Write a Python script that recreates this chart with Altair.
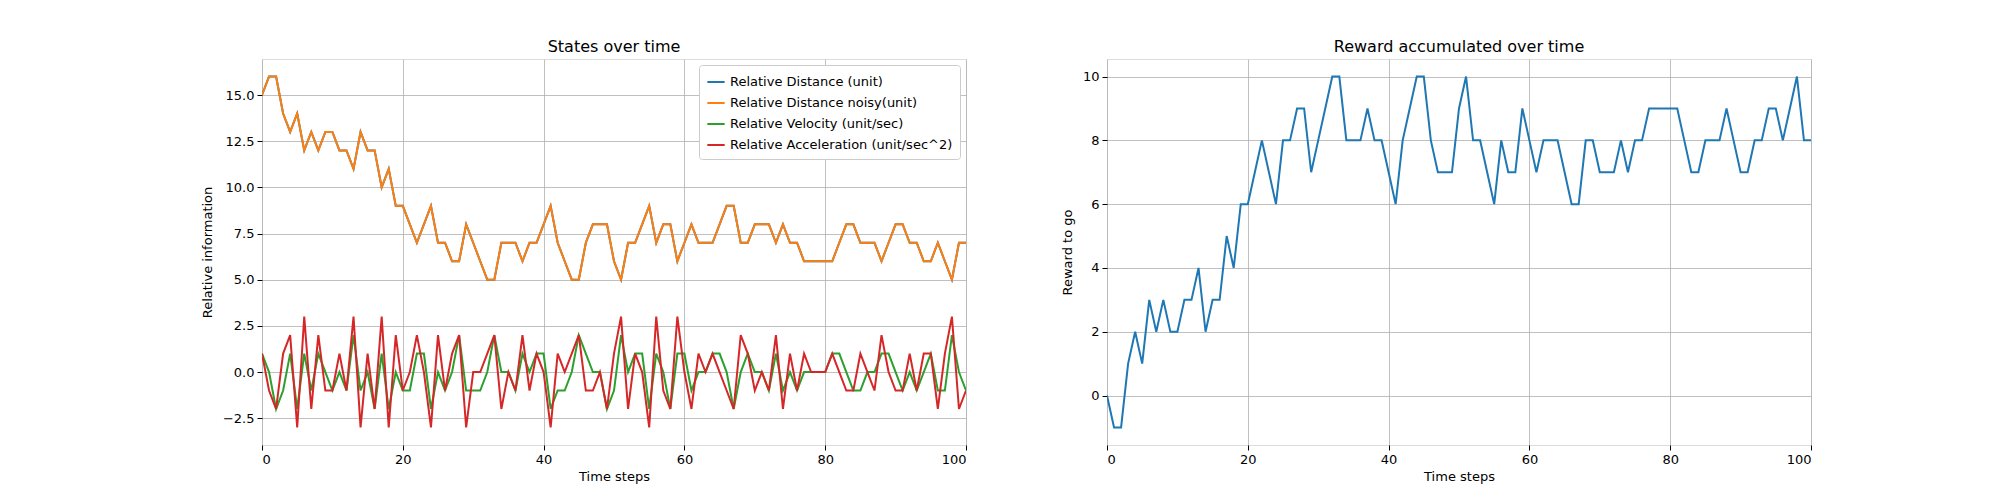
import altair as alt
import pandas as pd

steps = list(range(101))
dist = [15,16,16,14,13,14,12,13,12,13,13,12,12,11,13,12,12,10,11,9,
        9,8,7,8,9,7,7,6,6,8,7,6,5,5,7,7,7,6,7,7,
        8,9,7,6,5,5,7,8,8,8,6,5,7,7,8,9,7,8,8,6,
        7,8,7,7,7,8,9,9,7,7,8,8,8,7,8,7,7,6,6,6,
        6,6,7,8,8,7,7,7,6,7,8,8,7,7,6,6,7,6,5,7,7]
dist_noisy = list(dist)
vel = [1,0,-2,-1,1,-2,1,-1,1,0,-1,0,-1,2,-1,0,-2,1,-2,0,
       -1,-1,1,1,-2,0,-1,0,2,-1,-1,-1,0,2,0,0,-1,1,0,1,
       1,-2,-1,-1,0,2,1,0,0,-2,-1,2,0,1,1,-2,1,0,-2,1,
       1,-1,0,0,1,1,0,-2,0,1,0,0,-1,1,-1,0,-1,0,0,0,
       0,1,1,0,-1,-1,0,0,1,1,0,-1,0,-1,0,1,-1,-1,2,0,-1]
acc = [1,-1,-2,1,2,-3,3,-2,2,-1,-1,1,-1,3,-3,1,-2,3,-3,2,
       -1,0,2,0,-3,2,-1,1,2,-3,0,0,1,2,-2,0,-1,2,-1,1,
       0,-3,1,0,1,2,-1,-1,0,-2,1,3,-2,1,0,-3,3,-1,-2,3,
       0,-2,1,0,1,0,-1,-2,2,1,-1,0,-1,2,-2,1,-1,1,0,0,
       0,1,0,-1,-1,1,0,-1,2,0,-1,-1,1,-1,1,1,-2,1,3,-2,-1]
reward = [0,-1,-1,1,2,1,3,2,3,2,2,3,3,4,2,3,3,5,4,6,
          6,7,8,7,6,8,8,9,9,7,8,9,10,10,8,8,8,9,8,8,
          7,6,8,9,10,10,8,7,7,7,9,10,8,8,7,6,8,7,7,9,
          8,7,8,8,8,7,6,6,8,8,7,7,7,8,7,8,8,9,9,9,
          9,9,8,7,7,8,8,8,9,8,7,7,8,8,9,9,8,9,10,8,8]

names = ["Relative Distance (unit)", "Relative Distance noisy(unit)",
         "Relative Velocity (unit/sec)", "Relative Acceleration (unit/sec^2)"]
colors = ["#1f77b4", "#ff7f0e", "#2ca02c", "#d62728"]

rows = []
for i, (n, s) in enumerate(zip(names, [dist, dist_noisy, vel, acc])):
    for t, v in zip(steps, s):
        rows.append({"t": t, "v": v, "series": n, "order": i})
df = pd.DataFrame(rows)
df_r = pd.DataFrame({"t": steps, "r": reward})

FONT = "DejaVu Sans"
W, H = 704, 386

xax = alt.Axis(values=[0, 20, 40, 60, 80, 100], grid=True, gridColor="#b0b0b0",
               gridWidth=0.8, tickColor="black", domain=False, labelFontSize=13,
               titleFontSize=13, titleFontWeight="normal", labelColor="black",
               titleColor="black", tickSize=5, labelPadding=3, titlePadding=4)

left = alt.Chart(df).mark_line(strokeWidth=2, clip=True).encode(
    x=alt.X("t:Q", title="Time steps", scale=alt.Scale(domain=[0, 100], nice=False, zero=False), axis=xax),
    y=alt.Y("v:Q", title="Relative information",
            scale=alt.Scale(domain=[-3.95, 16.95], nice=False, zero=False),
            axis=alt.Axis(values=[-2.5, 0, 2.5, 5, 7.5, 10, 12.5, 15], format=".1f",
                          grid=True, gridColor="#b0b0b0", gridWidth=0.8, tickColor="black",
                          domain=False, labelFontSize=13, titleFontSize=13,
                          titleFontWeight="normal", labelColor="black", titleColor="black",
                          tickSize=5, labelPadding=3, titlePadding=8)),
    color=alt.Color("series:N", scale=alt.Scale(domain=names, range=colors),
                    legend=alt.Legend(title=None, orient="top-right", symbolType="stroke",
                                      symbolStrokeWidth=2, symbolSize=300, labelFontSize=13,
                                      labelColor="black", fillColor="white",
                                      strokeColor="#cccccc", padding=7, cornerRadius=3,
                                      offset=6, rowPadding=4, labelLimit=400)),
    order=alt.Order("order:Q"),
).properties(width=W, height=H, title=alt.TitleParams("States over time", fontSize=16,
                                                       fontWeight="normal", font=FONT))

right = alt.Chart(df_r).mark_line(strokeWidth=2, color="#1f77b4", clip=True).encode(
    x=alt.X("t:Q", title="Time steps", scale=alt.Scale(domain=[0, 100], nice=False, zero=False), axis=xax),
    y=alt.Y("r:Q", title="Reward to go",
            scale=alt.Scale(domain=[-1.55, 10.55], nice=False, zero=False),
            axis=alt.Axis(values=[0, 2, 4, 6, 8, 10], grid=True, gridColor="#b0b0b0",
                          gridWidth=0.8, tickColor="black", domain=False, labelFontSize=13,
                          titleFontSize=13, titleFontWeight="normal", labelColor="black",
                          titleColor="black", tickSize=5, labelPadding=3, titlePadding=8)),
).properties(width=W, height=H, title=alt.TitleParams("Reward accumulated over time", fontSize=16,
                                                       fontWeight="normal", font=FONT))

chart = alt.hconcat(left, right, spacing=93).resolve_legend(color="independent").properties(
    padding={"left": 192, "top": 30, "right": 10, "bottom": 10}
).configure_view(stroke="black", strokeWidth=1.2).configure(font=FONT, background="white")

chart.save("out.html", embed_options={"renderer": "svg", "actions": False})
